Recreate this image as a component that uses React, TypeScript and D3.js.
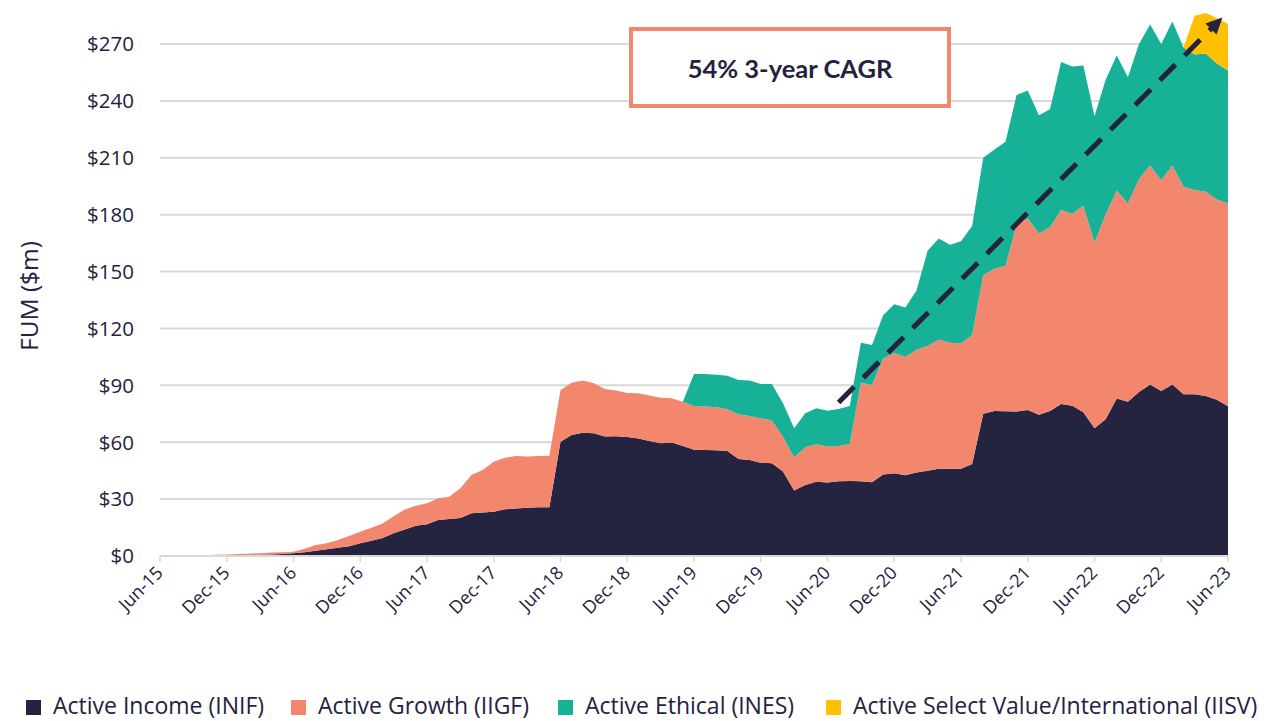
import React from 'react';
import * as d3 from 'd3';

// monthly FUM ($m), Jun-15 .. Jun-23
const income = [
  0, 0, 0, 0, 0, 0.1, 0.2, 0.3, 0.4, 0.6, 0.8, 1.1, 1.4, 2, 2.8, 3.5, 4.3, 5.2, 6.7, 8,
  9.5, 12, 14, 16, 16.7, 19, 19.5, 20, 22.5, 22.9, 23.4, 24.6, 25.1, 25.5, 25.7, 25.7,
  60.2, 63.8, 65, 64.7, 63, 63.2, 62.8, 62, 60.6, 59.4, 59.8, 58, 56, 55.9, 55.8, 55.4,
  51.2, 50.6, 49.2, 48.9, 44.5, 34.5, 37.4, 39.2, 38.7, 39.4, 39.6, 39.4, 38.9, 43, 43.6,
  42.6, 44, 45, 46, 46, 46, 48.5, 75, 76.5, 76.3, 76.2, 77, 74.5, 76.4, 80.1, 79.2, 75.8,
  67.4, 72.1, 83, 81.4, 86.5, 90.4, 87, 90.4, 85.3, 85.3, 84.4, 82.4, 79,
];
const growth = [
  0, 0, 0.1, 0.2, 0.4, 0.5, 0.6, 0.7, 0.8, 0.9, 1, 0.9, 0.9, 1.8, 3, 3.2, 4.2, 5.3, 6.1,
  6.9, 7.7, 9, 10.5, 10.5, 11.1, 11.4, 11.8, 15.7, 20.2, 22.5, 26.3, 27.2, 27.6, 27, 27,
  27.2, 27.3, 27.6, 27.5, 26.4, 25.1, 24.1, 23.2, 23.8, 24, 24.1, 23.4, 23.4, 23.1, 22.9,
  22.6, 22, 23.5, 23.2, 23.4, 22.5, 18.4, 17.5, 19.9, 19.7, 19.1, 18.6, 19.5, 52, 51.3,
  61.2, 63.4, 62.4, 64.7, 65.8, 68.2, 66.4, 66, 68, 73.2, 75, 76.7, 98.8, 101, 95.6, 97,
  102.3, 101.3, 108.8, 97.9, 108, 109.8, 104.5, 112.3, 115.5, 111.1, 115.5, 109.6, 107.7,
  107.7, 105.6, 106.9,
];
const ethical = [
  0, 0, 0, 0, 0, 0, 0, 0, 0, 0, 0, 0, 0, 0, 0, 0, 0, 0, 0, 0, 0, 0, 0, 0, 0, 0, 0, 0, 0,
  0, 0, 0, 0, 0, 0, 0, 0, 0, 0, 0, 0, 0, 0, 0, 0, 0, 0, 0, 16.9, 17.2, 17.2, 17.7, 18.1,
  18.7, 18.1, 19.3, 17.6, 15.4, 18, 19, 18.8, 19.5, 20, 21.1, 21.1, 22.8, 25.7, 26, 31.3,
  50.2, 53.2, 51.8, 54, 57.5, 61.8, 62.8, 65.4, 68.1, 67.5, 62.3, 62.2, 78.1, 77.6, 74.1,
  66.6, 71.1, 71.2, 66.6, 71.2, 74.4, 71.9, 75.9, 73.2, 71.4, 72.9, 71.7, 70.1,
];
const selectValue = [
  0, 0, 0, 0, 0, 0, 0, 0, 0, 0, 0, 0, 0, 0, 0, 0, 0, 0, 0, 0, 0, 0, 0, 0, 0, 0, 0, 0, 0,
  0, 0, 0, 0, 0, 0, 0, 0, 0, 0, 0, 0, 0, 0, 0, 0, 0, 0, 0, 0, 0, 0, 0, 0, 0, 0, 0, 0, 0,
  0, 0, 0, 0, 0, 0, 0, 0, 0, 0, 0, 0, 0, 0, 0, 0, 0, 0, 0, 0, 0, 0, 0, 0, 0, 0, 0, 0, 0,
  0, 0, 0, 0, 0, 0, 20.5, 21.4, 23.9, 24.7,
];

const seriesNames = [
  'Active Income (INIF)',
  'Active Growth (IIGF)',
  'Active Ethical (INES)',
  'Active Select Value/International (IISV)',
];
const seriesColors = ['#242340', '#f2876e', '#16b197', '#fec000'];
const tickLabels = [
  'Jun-15', 'Dec-15', 'Jun-16', 'Dec-16', 'Jun-17', 'Dec-17', 'Jun-18', 'Dec-18', 'Jun-19',
  'Dec-19', 'Jun-20', 'Dec-20', 'Jun-21', 'Dec-21', 'Jun-22', 'Dec-22', 'Jun-23',
];
const yTicks = [0, 30, 60, 90, 120, 150, 180, 210, 240, 270];
// dashed CAGR arrow: [month index, value]
const cagrStart = [61, 81];
const cagrEnd = [95.5, 284];

const W = 1279;
const H = 721;
const FONT = '"Open Sans", Lato, sans-serif';
const INK = '#24223f';

export default function App() {
  const rows = income.map((v, i) => ({ i, a: v, b: growth[i], c: ethical[i], d: selectValue[i] }));
  const stack = d3.stack<any>().keys(['a', 'b', 'c', 'd'])(rows);

  const x = d3.scaleLinear().domain([0, income.length - 1]).range([160, 1228]);
  const y = d3.scaleLinear().domain([0, 270]).range([556, 44]);

  const area = d3
    .area<any>()
    .x((d) => x(d.data.i))
    .y0((d) => y(d[0]))
    .y1((d) => y(d[1]));

  const x1 = x(cagrStart[0]), y1 = y(cagrStart[1]);
  const x2 = x(cagrEnd[0]), y2 = y(cagrEnd[1]);
  const ang = Math.atan2(y2 - y1, x2 - x1);
  const headLen = 18;
  const lineEndX = x2 - Math.cos(ang) * headLen * 0.7;
  const lineEndY = y2 - Math.sin(ang) * headLen * 0.7;
  const head = [
    [x2, y2],
    [x2 - headLen * Math.cos(ang - 0.45), y2 - headLen * Math.sin(ang - 0.45)],
    [x2 - headLen * Math.cos(ang + 0.45), y2 - headLen * Math.sin(ang + 0.45)],
  ];

  const legendTextX = [53, 318, 585, 853];

  return (
    <svg
      width={W}
      height={H}
      style={{ position: 'absolute', left: 0, top: 0, background: '#fff' }}
      fontFamily={FONT}
    >
      {/* grid */}
      {yTicks.map((t) => (
        <g key={t}>
          {t > 0 && (
            <line x1={160} x2={1228} y1={y(t)} y2={y(t)} stroke="#d9d9d9" strokeWidth={2} />
          )}
          <text x={134} y={y(t)} dy="0.36em" textAnchor="end" fontSize={20.5} fill={INK}>
            ${t}
          </text>
        </g>
      ))}

      {/* stacked areas */}
      {stack.map((s, k) => (
        <path key={k} d={area(s) || ''} fill={seriesColors[k]} />
      ))}

      {/* x axis */}
      <line x1={160} x2={1228} y1={556} y2={556} stroke="#d9d9d9" strokeWidth={2} />
      {tickLabels.map((lab, k) => {
        const tx = x(k * 6);
        return (
          <g key={lab}>
            <line x1={tx} x2={tx} y1={556} y2={562} stroke="#d9d9d9" strokeWidth={1.5} />
            <text
              transform={`translate(${tx + 4},${574}) rotate(-45)`}
              textAnchor="end"
              fontSize={18}
              fill={INK}
            >
              {lab}
            </text>
          </g>
        );
      })}

      {/* y axis title */}
      <text
        transform="translate(38,296) rotate(-90)"
        textAnchor="middle"
        fontSize={24.5}
        fill={INK}
      >
        FUM ($m)
      </text>

      {/* CAGR arrow */}
      <line
        x1={x1}
        y1={y1}
        x2={lineEndX}
        y2={lineEndY}
        stroke={INK}
        strokeWidth={5}
        strokeDasharray="22,13"
      />
      <polygon points={head.map((p) => p.join(',')).join(' ')} fill={INK} />

      {/* annotation box */}
      <rect x={631} y={29} width={318} height={77} fill="#fff" stroke="#f2876e" strokeWidth={4} />
      <text
        x={790}
        y={69}
        dy="0.35em"
        textAnchor="middle"
        fontSize={25.5}
        fontWeight="bold"
        fontFamily="Lato, sans-serif"
        fill={INK}
      >
        54% 3-year CAGR
      </text>

      {/* legend */}
      {seriesNames.map((n, k) => (
        <g key={n} transform={`translate(${legendTextX[k]},706)`}>
          <rect x={-27} y={-6} width={15} height={15} fill={seriesColors[k]} />
          <text x={0} y={0} dy="0.36em" fontSize={23} fill={INK}>
            {n}
          </text>
        </g>
      ))}
    </svg>
  );
}
